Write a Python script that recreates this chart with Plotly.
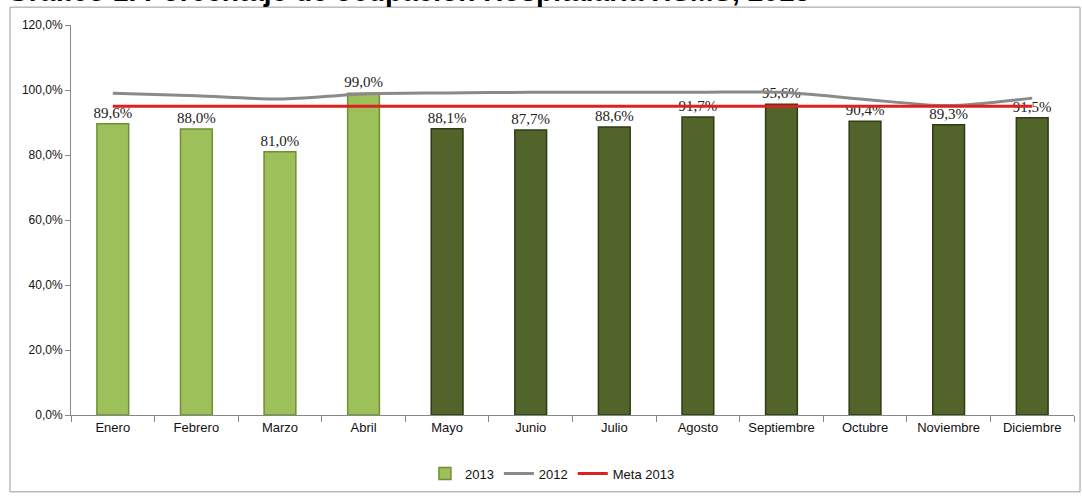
import plotly.graph_objects as go

months = ["Enero", "Febrero", "Marzo", "Abril", "Mayo", "Junio", "Julio",
          "Agosto", "Septiembre", "Octubre", "Noviembre", "Diciembre"]
ocup_2013 = [89.6, 88.0, 81.0, 99.0, 88.1, 87.7, 88.6, 91.7, 95.6, 90.4, 89.3, 91.5]
ocup_2012 = [99.0, 98.2, 97.2, 98.8, 99.1, 99.3, 99.3, 99.3, 99.3, 97.1, 95.2, 97.5]
meta_2013 = [95.0] * 12
y_ticks = [0, 20, 40, 60, 80, 100, 120]
y_tick_text = [f"{v:.1f}%".replace(".", ",") for v in y_ticks]

n_light = 4
bar_colors = ["#9DC05A" if i < n_light else "#51652A" for i in range(len(months))]
bar_lines = ["#6F8F33" if i < n_light else "#2F3C16" for i in range(len(months))]
labels = [f"{v:.1f}%".replace(".", ",") for v in ocup_2013]

fig = go.Figure()
fig.add_trace(go.Bar(
    x=months, y=ocup_2013, name="2013",
    marker=dict(color=bar_colors, line=dict(color=bar_lines, width=1.5)),
    text=labels, textposition="outside", cliponaxis=False, constraintext="none",
    textfont=dict(family="Liberation Serif, serif", size=15, color="#222"),
))
fig.add_trace(go.Scatter(
    x=months, y=ocup_2012, name="2012", mode="lines",
    line=dict(color="#8A8A8A", width=3, shape="spline", smoothing=0.8),
))
fig.add_trace(go.Scatter(
    x=months, y=meta_2013, name="Meta 2013", mode="lines",
    line=dict(color="#E02020", width=3),
))

sans = "Liberation Sans, Arial, sans-serif"

fig.update_layout(
    width=1082, height=497,
    margin=dict(l=71, r=8, t=25, b=79),
    paper_bgcolor="white", plot_bgcolor="white",
    separators=",.",
    bargap=0.62,
    showlegend=True,
    legend=dict(orientation="h", x=0.48, y=-0.15, xanchor="center", yanchor="middle",
                font=dict(family=sans, size=13, color="#111"),
                itemwidth=30, traceorder="normal"),
    font=dict(family=sans, color="#111"),
    xaxis=dict(showline=True, linecolor="#888", linewidth=1,
               ticks="outside", tickson="boundaries", ticklen=6, tickcolor="#888",
               tickfont=dict(family=sans, size=13, color="#111"),
               showgrid=False),
    yaxis=dict(range=[0, 120], tickvals=y_ticks, ticktext=y_tick_text,
               showline=True, linecolor="#888", linewidth=1,
               ticks="outside", ticklen=5, tickcolor="#888",
               tickfont=dict(family=sans, size=12, color="#111"),
               showgrid=False, zeroline=False),
    shapes=[dict(type="rect", xref="paper", yref="paper",
                 x0=-0.0608, x1=1.006, y0=-0.197, y1=1.0458,
                 line=dict(color="#999", width=1), fillcolor="rgba(0,0,0,0)", layer="below")],
    annotations=[dict(text="Gráfico 1. Porcentaje de ocupación Hospitalaria HSMS, 2013",
                      xref="paper", yref="paper", x=-0.0658, y=1.085,
                      xanchor="left", yanchor="middle", showarrow=False,
                      font=dict(family=sans, size=28, color="#000", weight="bold"))],
)

fig.write_html("out.html")
